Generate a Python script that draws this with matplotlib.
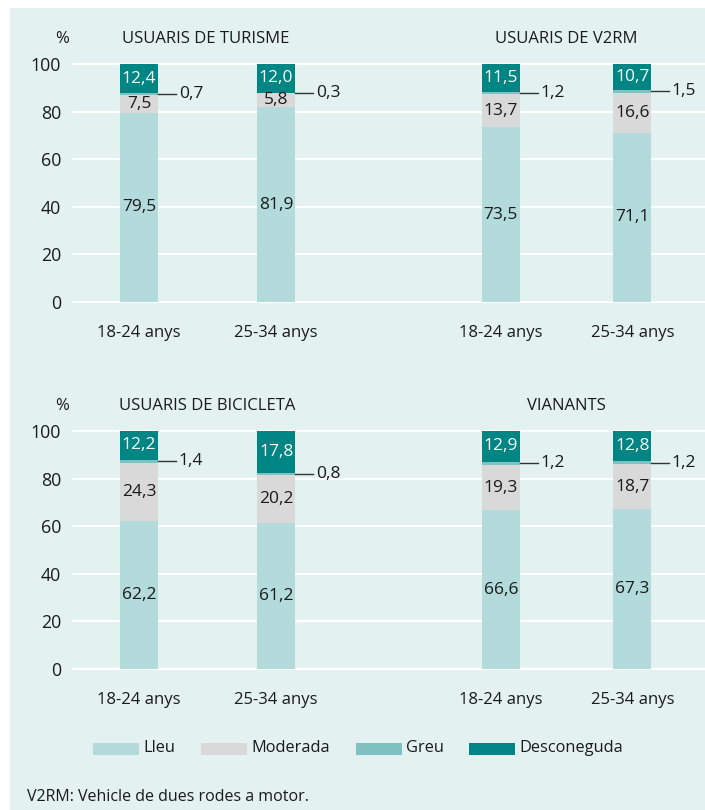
import matplotlib
matplotlib.use("Agg")
import matplotlib.pyplot as plt
from matplotlib.patches import Rectangle

plt.rcParams['font.family'] = ['Open Sans', 'DejaVu Sans']

groups = ["18-24 anys", "25-34 anys"]
panels = ["USUARIS DE TURISME", "USUARIS DE V2RM", "USUARIS DE BICICLETA", "VIANANTS"]
series = ["Lleu", "Moderada", "Greu", "Desconeguda"]
colors = ["#b3dbdb", "#d9d9da", "#80c2c2", "#008585"]

lleu = [[79.5, 81.9], [73.5, 71.1], [62.2, 61.2], [66.6, 67.3]]
moderada = [[7.5, 5.8], [13.7, 16.6], [24.3, 20.2], [19.3, 18.7]]
greu = [[0.7, 0.3], [1.2, 1.5], [1.4, 0.8], [1.2, 1.2]]
desconeguda = [[12.4, 12.0], [11.5, 10.7], [12.2, 17.8], [12.9, 12.8]]
yticks = [0, 20, 40, 60, 80, 100]

W, H = 705, 810
fig = plt.figure(figsize=(W / 100, H / 100), dpi=100)
fig.patch.set_facecolor("white")
fig.patches.append(Rectangle((10 / W, 0), 1, 1 - 8 / H, transform=fig.transFigure,
                             facecolor="#e3f1f1", edgecolor="none", zorder=-10))

TXT = "#1a1a1a"
FS = 12.5

def fmt(v):
    return f"{v:.1f}".replace(".", ",")

pos = [0, 1, 2.64, 3.6]
bw = 0.277
xlo, xhi = -0.49, 4.13

def make_row(zero_px, hundred_px, pidx):
    scale = (zero_px - hundred_px) / 100.0
    ylo, yhi = -1.5, 101.5
    bottom = zero_px + (-ylo) * scale
    top = hundred_px - (yhi - 100) * scale
    ax = fig.add_axes([72 / W, 1 - bottom / H, (W - 72) / W, (bottom - top) / H])
    ax.set_facecolor("none")
    ax.set_xlim(xlo, xhi)
    ax.set_ylim(ylo, yhi)
    for s in ax.spines.values():
        s.set_visible(False)
    ax.set_yticks(yticks)
    ax.set_yticklabels([str(t) for t in yticks], fontsize=12.8, color=TXT)
    ax.tick_params(axis="y", length=0, pad=8)
    ax.grid(axis="y", color="white", linewidth=1.6, zorder=0)
    ax.set_axisbelow(True)
    ax.set_xticks(pos)
    ax.set_xticklabels(groups * 2, fontsize=12, color=TXT)
    ax.tick_params(axis="x", length=0, pad=14)
    for k in range(2):
        p = pidx[k]
        for g in range(2):
            x = pos[2 * k + g]
            vals = [lleu[p][g], moderada[p][g], greu[p][g], desconeguda[p][g]]
            b = 0
            for si, v in enumerate(vals):
                ax.bar(x, v, bw, bottom=b, color=colors[si], zorder=2, linewidth=0)
                c = b + v / 2
                if si in (0, 1):
                    ax.text(x, c, fmt(v), ha="center", va="center", fontsize=FS, color=TXT, zorder=3)
                elif si == 3:
                    ax.text(x, c, fmt(v), ha="center", va="center", fontsize=FS, color="white", zorder=3)
                else:
                    x0 = x + bw / 2
                    ax.plot([x0, x0 + 0.13], [c, c], color="#333333", lw=1.0, zorder=3, clip_on=False)
                    ax.text(x0 + 0.15, c, fmt(v), ha="left", va="center", fontsize=FS, color=TXT, zorder=3)
                b += v
    return ax

make_row(302, 64, [0, 1])
make_row(669, 431, [2, 3])

def title(xp, yp, s, ha="center"):
    fig.text(xp / W, 1 - yp / H, s, ha=ha, va="center", fontsize=12, color=TXT)

title(62, 39, "%")
title(206, 39, panels[0])
title(566, 39, panels[1])
title(62, 406, "%")
title(207, 406, panels[2])
title(566, 406, panels[3])

# legend drawn manually
leg_x = [93, 201, 356, 469]
for lx, c, s in zip(leg_x, colors, series):
    fig.patches.append(Rectangle((lx / W, 1 - 755 / H), 46 / W, 12 / H, transform=fig.transFigure,
                                 facecolor=c, edgecolor="none"))
    fig.text((lx + 50) / W, 1 - 748.5 / H, s, ha="left", va="center", fontsize=11.8, color=TXT)

fig.text(27 / W, 1 - 797 / H, "V2RM: Vehicle de dues rodes a motor.", ha="left", va="center",
         fontsize=11.5, color=TXT)

fig.savefig("out.png", dpi=100, facecolor=fig.get_facecolor())
